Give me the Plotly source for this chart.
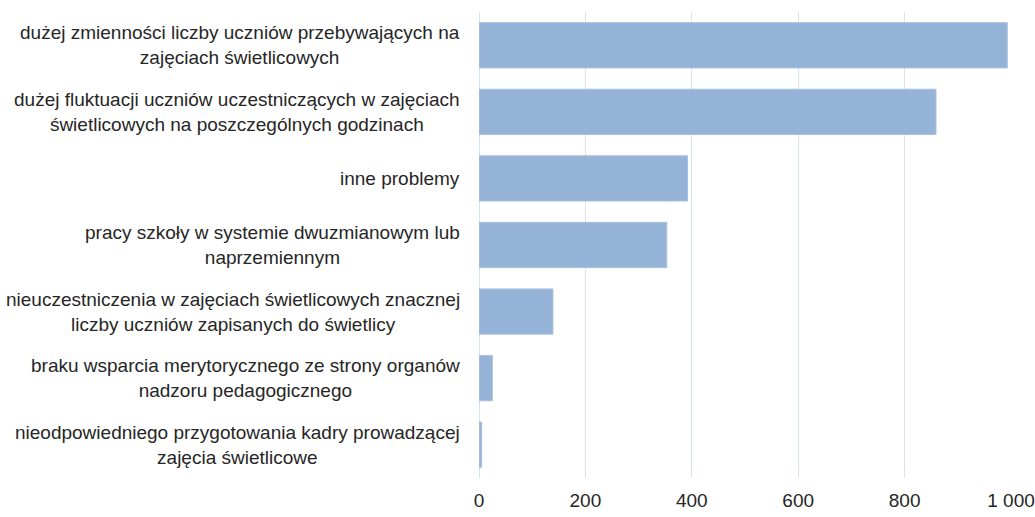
import plotly.graph_objects as go

# Kategorie (od góry) i wartości
kategorie = [
    "dużej zmienności liczby uczniów przebywających na<br>zajęciach świetlicowych",
    "dużej fluktuacji uczniów uczestniczących w zajęciach<br>świetlicowych na poszczególnych godzinach",
    "inne problemy",
    "pracy szkoły w systemie dwuzmianowym lub<br>naprzemiennym",
    "nieuczestniczenia w zajęciach świetlicowych znacznej<br>liczby uczniów zapisanych do świetlicy",
    "braku wsparcia merytorycznego ze strony organów<br>nadzoru pedagogicznego",
    "nieodpowiedniego przygotowania kadry prowadzącej<br>zajęcia świetlicowe",
]
wartosci = [993, 859, 392, 353, 139, 25, 5]
ticki = [0, 200, 400, 600, 800, 1000]

FONT = "Liberation Sans"

fig = go.Figure(go.Bar(
    x=wartosci,
    y=kategorie,
    orientation="h",
    marker=dict(color="#95B3D7", line=dict(color="#A9C1DF", width=1)),
))

# etykiety kategorii jako adnotacje (linie wyśrodkowane, blok wyrównany do prawej)
for k in kategorie:
    fig.add_annotation(
        x=0, xref="paper", y=k, yref="y",
        text=k, showarrow=False,
        xanchor="right", align="center", xshift=-17,
        font=dict(family=FONT, size=19, color="#262626"),
    )

fig.update_layout(
    width=1035, height=517,
    margin=dict(l=479, r=24, t=12, b=39),
    paper_bgcolor="white", plot_bgcolor="white",
    bargap=0.32,
    showlegend=False,
    separators=", ",
    font=dict(family=FONT, size=19, color="#262626"),
)
fig.update_xaxes(
    range=[0, 1000], tickvals=ticki, separatethousands=True,
    automargin=False,
    showgrid=True, gridcolor="#D9E2F0", gridwidth=1,
    zeroline=True, zerolinecolor="#D9E2F0", zerolinewidth=1,
    ticks="outside", ticklen=5, tickcolor="rgba(0,0,0,0)",
    tickfont=dict(family=FONT, size=19, color="#262626"),
)
fig.update_yaxes(
    autorange="reversed", showticklabels=False, showgrid=False,
    automargin=False,
)

# bez domyślnego marginesu strony i bez paska narzędzi
fig.write_html("out.html", config={"displayModeBar": False},
               post_script="document.body.style.margin='0';")
